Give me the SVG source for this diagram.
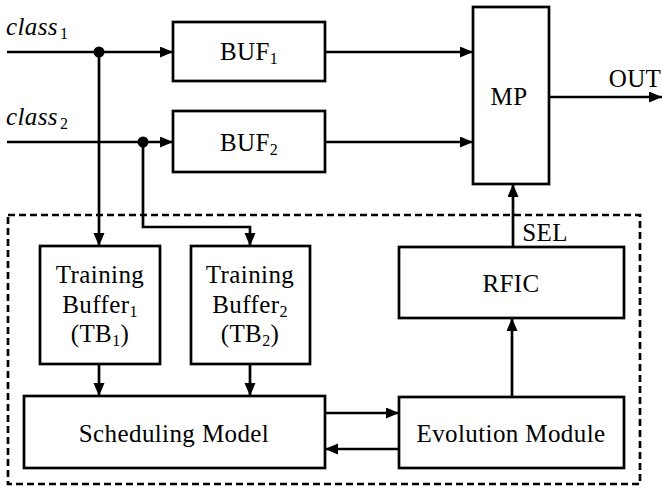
<svg xmlns="http://www.w3.org/2000/svg" width="662" height="486" viewBox="0 0 662 486">
<style>
.box{fill:#fff;stroke:#000;stroke-width:2.7}
.ln{fill:none;stroke:#000;stroke-width:2.7}
.t{font-family:"Liberation Serif","Times New Roman",serif;font-size:25px;fill:#000;text-anchor:middle;letter-spacing:0.4px}
.s{font-size:16px}
.it{font-style:italic;text-anchor:start}
.up{font-style:normal}
</style>
<defs>
<marker id="ah" markerUnits="userSpaceOnUse" markerWidth="14" markerHeight="12" refX="13" refY="5.5" orient="auto">
<path d="M0,0 L13,5.5 L0,11 Z" fill="#000"/>
</marker>
</defs>
<rect x="8" y="215" width="632" height="269" fill="none" stroke="#000" stroke-width="2.7" stroke-dasharray="7,4"/>
<g id="connectors">
<line class="ln" x1="7" y1="52" x2="173" y2="52" marker-end="url(#ah)"/>
<line class="ln" x1="7" y1="142" x2="173" y2="142" marker-end="url(#ah)"/>
<circle cx="99" cy="52" r="5.5" fill="#000"/>
<circle cx="143" cy="142" r="5.5" fill="#000"/>
<line class="ln" x1="99" y1="52" x2="99" y2="246" marker-end="url(#ah)"/>
<polyline class="ln" points="143,142 143,227 250,227 250,246" marker-end="url(#ah)"/>
<line class="ln" x1="325" y1="52" x2="473" y2="52" marker-end="url(#ah)"/>
<line class="ln" x1="325" y1="142" x2="473" y2="142" marker-end="url(#ah)"/>
<line class="ln" x1="549" y1="97" x2="662" y2="97" marker-end="url(#ah)"/>
<line class="ln" x1="513" y1="247" x2="513" y2="184" marker-end="url(#ah)"/>
<line class="ln" x1="512" y1="397" x2="512" y2="318" marker-end="url(#ah)"/>
<line class="ln" x1="99" y1="364" x2="99" y2="396" marker-end="url(#ah)"/>
<line class="ln" x1="250" y1="364" x2="250" y2="396" marker-end="url(#ah)"/>
<line class="ln" x1="325" y1="413" x2="399" y2="413" marker-end="url(#ah)"/>
<line class="ln" x1="399" y1="449" x2="325" y2="449" marker-end="url(#ah)"/>
</g>
<g id="labels">
<text class="t it" x="6" y="35">class<tspan class="s up" dx="2" dy="4">1</tspan></text>
<text class="t it" x="6" y="125">class<tspan class="s up" dx="2" dy="4">2</tspan></text>
<text class="t" x="635" y="87">OUT</text>
<text class="t" x="545" y="241">SEL</text>
</g>
<g id="buf1">
<rect class="box" x="173" y="22" width="152" height="59"/>
<text class="t" x="249" y="60">BUF<tspan class="s" dy="4">1</tspan></text>
</g>
<g id="buf2">
<rect class="box" x="173" y="111" width="152" height="61"/>
<text class="t" x="249" y="151">BUF<tspan class="s" dy="4">2</tspan></text>
</g>
<g id="mp">
<rect class="box" x="473" y="7" width="76" height="177"/>
<text class="t" x="509" y="105">MP</text>
</g>
<g id="tb1">
<rect class="box" x="40" y="246" width="120" height="118"/>
<text class="t" x="100" y="283">Training</text>
<text class="t" x="100" y="313">Buffer<tspan class="s" dy="4">1</tspan></text>
<text class="t" x="100" y="342">(TB<tspan class="s" dy="4">1</tspan><tspan dy="-4">)</tspan></text>
</g>
<g id="tb2">
<rect class="box" x="191" y="246" width="119" height="118"/>
<text class="t" x="250" y="283">Training</text>
<text class="t" x="250" y="313">Buffer<tspan class="s" dy="4">2</tspan></text>
<text class="t" x="250" y="342">(TB<tspan class="s" dy="4">2</tspan><tspan dy="-4">)</tspan></text>
</g>
<g id="rfic">
<rect class="box" x="399" y="247" width="225" height="71"/>
<text class="t" x="511" y="292">RFIC</text>
</g>
<g id="scheduling">
<rect class="box" x="24" y="396" width="301" height="72"/>
<text class="t" x="174" y="442">Scheduling Model</text>
</g>
<g id="evolution">
<rect class="box" x="399" y="397" width="225" height="71"/>
<text class="t" x="511" y="442">Evolution Module</text>
</g>
</svg>
